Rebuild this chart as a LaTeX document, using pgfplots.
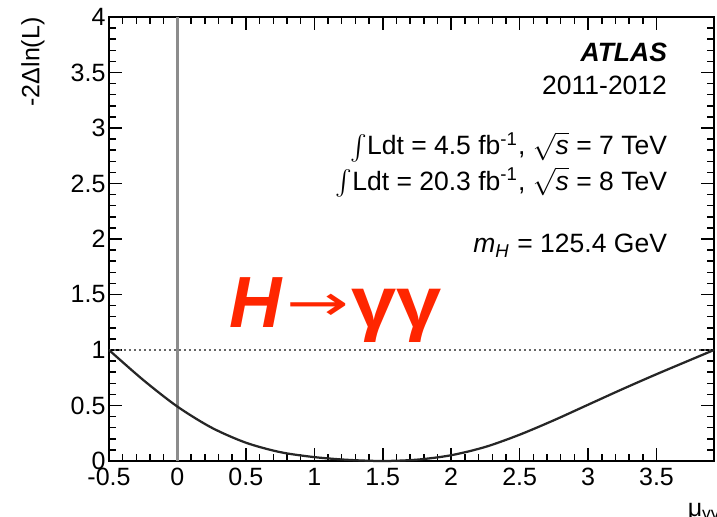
\documentclass[border=0pt]{standalone}
\usepackage{pgfplots}
\pgfplotsset{compat=1.18}
\usepackage{fontspec}
\setmainfont{Liberation Sans}
\newfontfamily\dejavu{DejaVu Sans}
\definecolor{hred}{RGB}{255,38,0}
\begin{document}
\begin{tikzpicture}[font=\fontsize{10}{12}\selectfont]
\begin{axis}[
  scale only axis,
  width=242pt, height=177.6pt,
  at={(0,0)}, anchor=south west,
  xmin=-0.5, xmax=3.92, ymin=0, ymax=4,
  axis line style={line width=1pt},
  tick align=inside,
  tick style={line width=0.6pt, black},
  major tick length=5.2pt, minor tick length=2.8pt,
  xtick={-0.5,0,0.5,1,1.5,2,2.5,3,3.5},
  xticklabels={-0.5,0,0.5,1,1.5,2,2.5,3,3.5},
  ytick={0,0.5,1,1.5,2,2.5,3,3.5,4},
  yticklabels={0,0.5,1,1.5,2,2.5,3,3.5,4},
  minor x tick num=4, minor y tick num=4,
  yticklabel style={inner xsep=1.2pt},
  xticklabel style={inner ysep=2.6pt},
  clip=false,
]
\addplot[black!45, line width=0.9pt] coordinates {(0,0) (0,4)};
\addplot[black!60, line width=0.5pt, dash pattern=on 0.8pt off 1.2pt] coordinates {(-0.5,1) (3.92,1)};
\addplot[black!85, line width=0.9pt, smooth] coordinates {
(-0.5,1.000) (-0.25,0.730) (0,0.490) (0.25,0.300) (0.5,0.165) (0.75,0.080)
(1.0,0.035) (1.25,0.010) (1.5,0.000) (1.75,0.012) (2.0,0.052) (2.25,0.127)
(2.5,0.237) (2.75,0.367) (3.0,0.507) (3.25,0.647) (3.5,0.782) (3.75,0.912) (3.92,1.000)
};
\begin{scope}[every node/.style={font=\fontsize{10.6}{12}\selectfont}]
\node[anchor=base east, inner sep=0pt] at (axis cs:3.58,3.595) {\textbf{\textit{ATLAS}}};
\node[anchor=base east, inner sep=0pt] at (axis cs:3.58,3.30) {2011-2012};
\node[anchor=base east, inner sep=0pt] at (axis cs:3.58,2.757) {$\int$Ldt = 4.5 fb\textsuperscript{-1}, $\sqrt{\textit{s}}$ = 7 TeV};
\node[anchor=base east, inner sep=0pt] at (axis cs:3.58,2.44) {$\int$Ldt = 20.3 fb\textsuperscript{-1}, $\sqrt{\textit{s}}$ = 8 TeV};
\node[anchor=base east, inner sep=0pt] at (axis cs:3.58,1.874) {\textit{m}\textsubscript{\textit{H}} = 125.4 GeV};
\end{scope}
\node[anchor=base west, inner sep=0pt, text=hred, font=\fontsize{29}{30}\selectfont] at (axis cs:0.38,1.207)
  {\textbf{\textit{H}}\hspace{1pt}\raisebox{2.5pt}{\scalebox{1.5}[1]{\fontsize{20}{20}\selectfont\dejavu →}}\hspace{1pt}\scalebox{1.12}[1]{\textbf{γγ}}};
\node[anchor=base west, inner sep=0pt] at ([yshift=-22pt]axis cs:3.725,0) {μ\textsubscript{γγ}};
\node[anchor=east, rotate=90, inner sep=0pt] at ([xshift=-30.4pt]rel axis cs:0,1) {-2Δln(L)};
\end{axis}
\pgfresetboundingbox
\path[use as bounding box] (-43.6pt,-22pt) rectangle (243.2pt,184.4pt);
\end{tikzpicture}
\end{document}
